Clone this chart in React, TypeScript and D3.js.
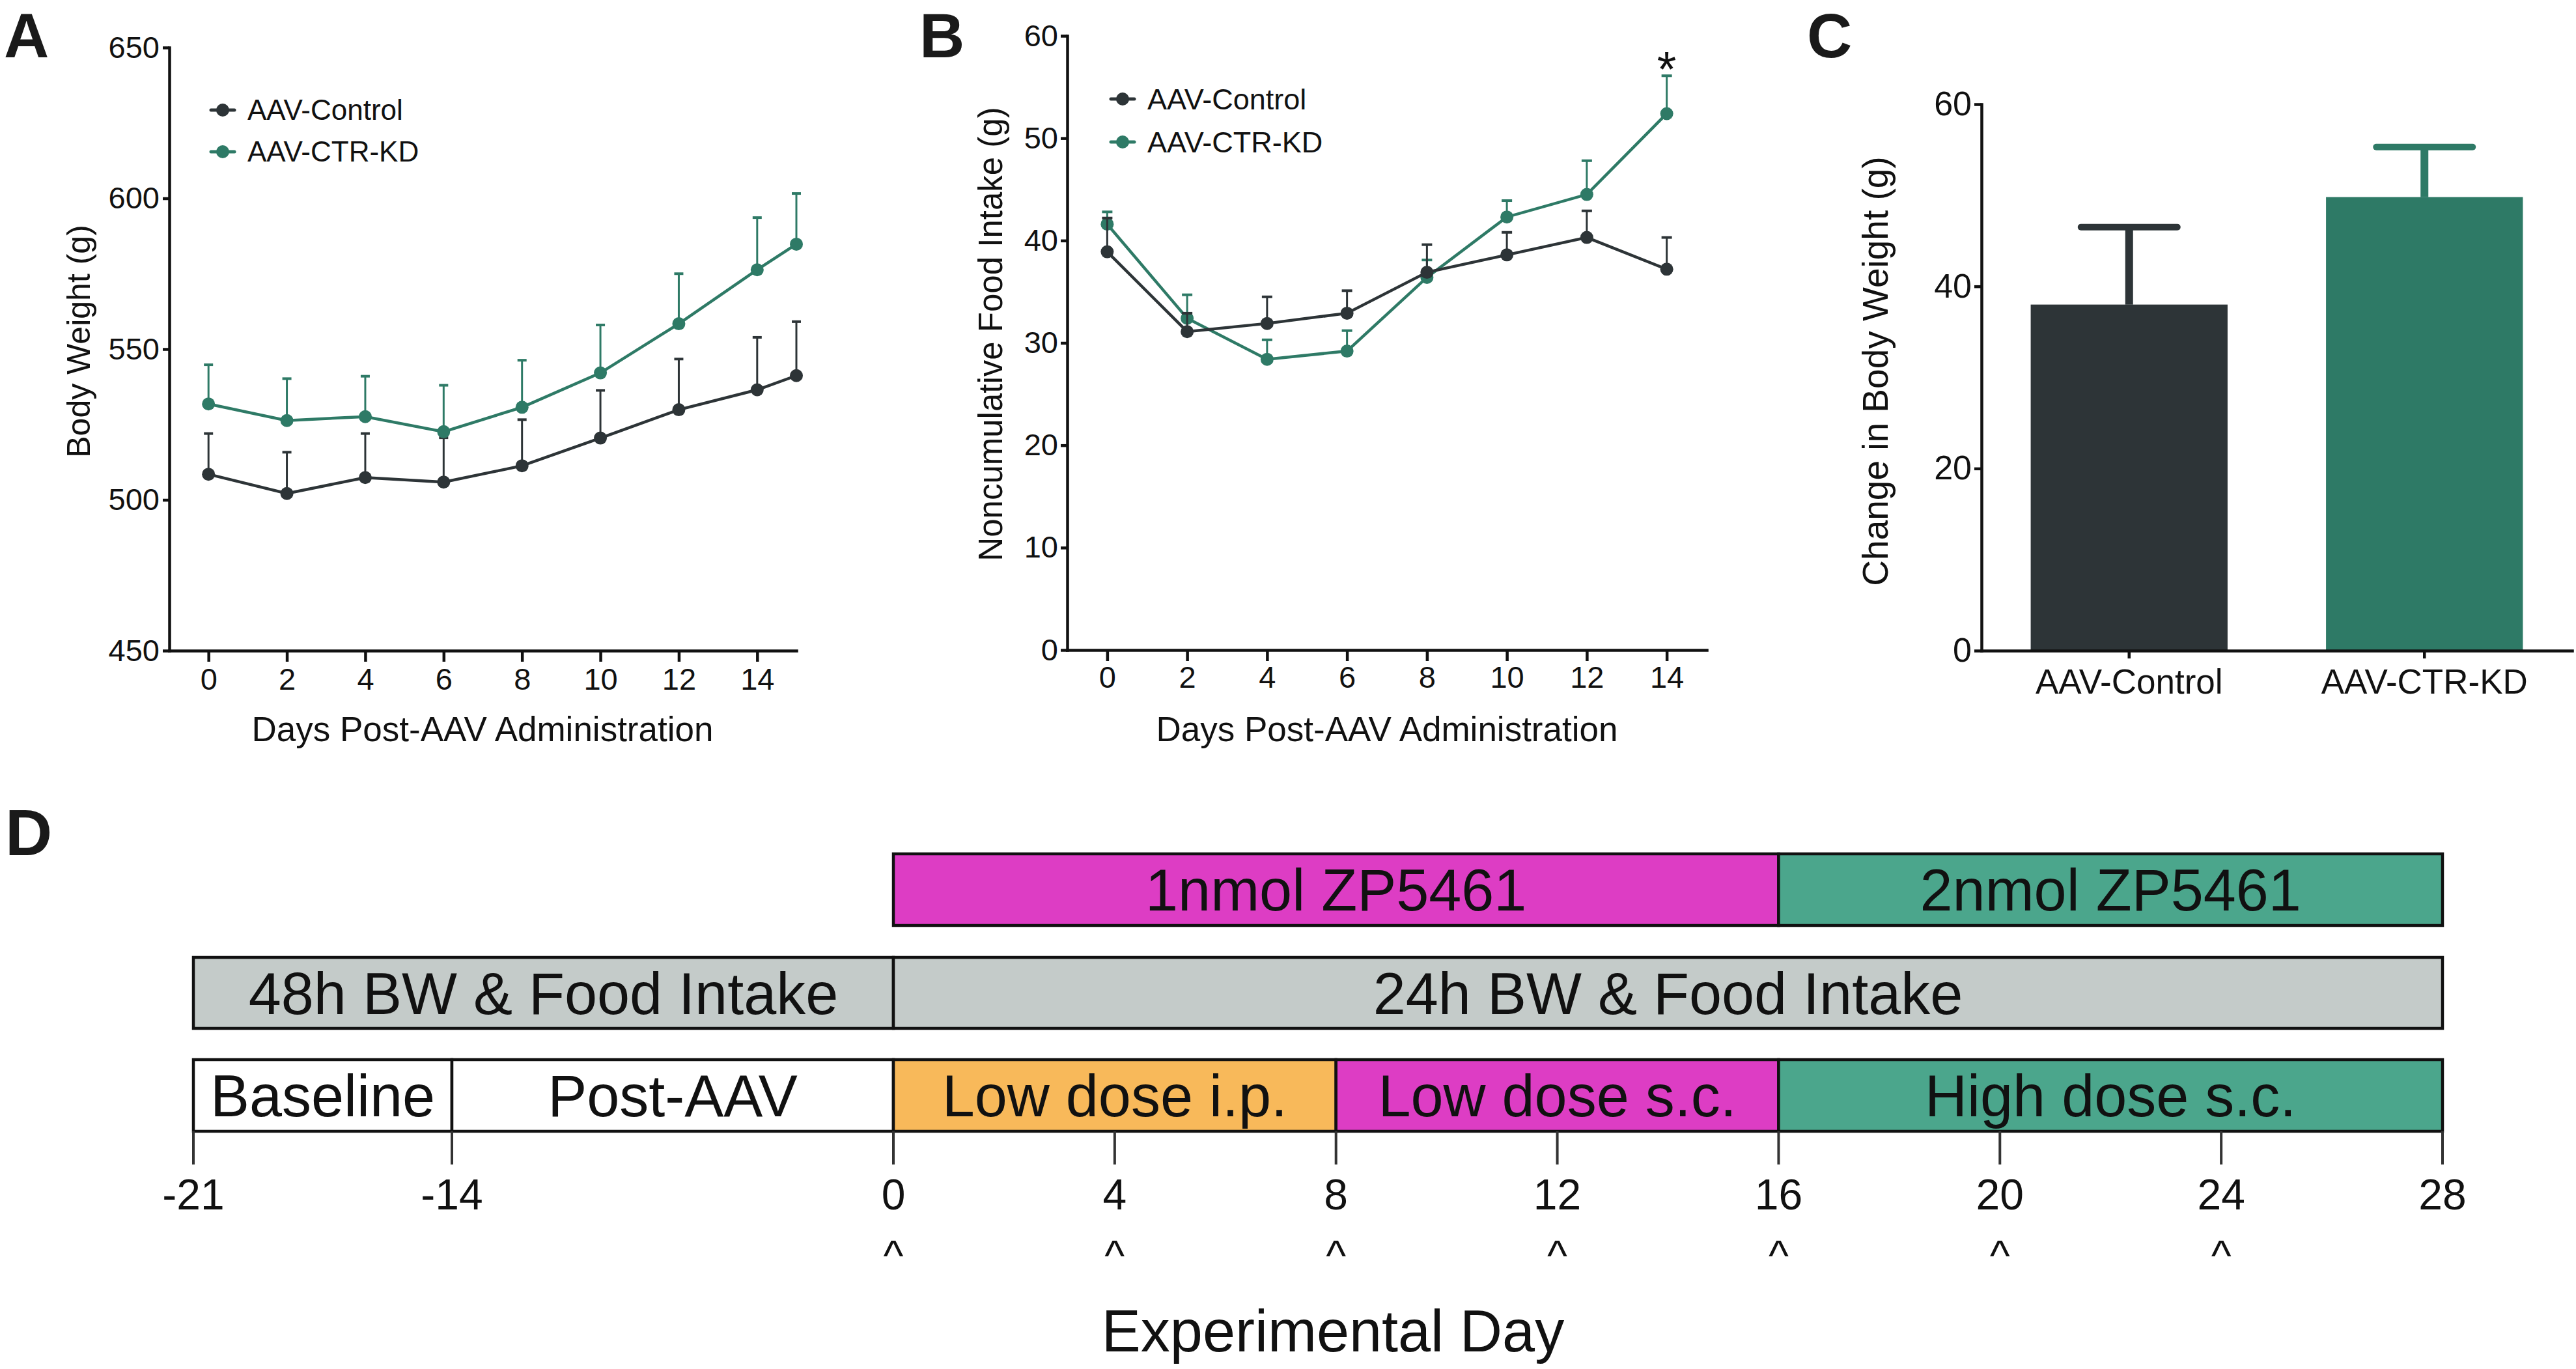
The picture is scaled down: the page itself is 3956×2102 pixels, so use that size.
import { useEffect, useRef } from 'react';
import * as d3 from 'd3';

const FONT = '"Liberation Sans", Arial, Helvetica, sans-serif';
const INK = '#111';
const DARK = '#2d3437';
const GREEN = '#2e7a66';

// panel A - body weight
const bwDays = [0, 2, 4, 6, 8, 10, 12, 14, 15];
const bwControl = [508.5, 502.1, 507.4, 505.9, 511.3, 520.5, 529.9, 536.5, 541.2];
const bwControlSem = [13.5, 13.7, 14.6, 14.7, 15.3, 15.8, 16.8, 17.4, 17.9];
const bwKD = [531.8, 526.3, 527.6, 522.6, 530.7, 542.1, 558.4, 576.3, 584.8];
const bwKDSem = [13.0, 13.9, 13.4, 15.4, 15.6, 15.9, 16.6, 17.3, 16.8];
const bwYTicks = [450, 500, 550, 600, 650];

// panel B - food intake
const fiDays = [0, 2, 4, 6, 8, 10, 12, 14];
const fiControl = [38.9, 31.1, 31.9, 32.9, 36.9, 38.6, 40.3, 37.2];
const fiControlSem = [3.3, 1.8, 2.6, 2.2, 2.7, 2.2, 2.6, 3.1];
const fiKD = [41.6, 32.4, 28.4, 29.2, 36.4, 42.3, 44.5, 52.4];
const fiKDSem = [1.2, 2.3, 1.9, 2.0, 1.7, 1.6, 3.3, 3.7];
const fiYTicks = [0, 10, 20, 30, 40, 50, 60];
const dayTicks = [0, 2, 4, 6, 8, 10, 12, 14];
const sigDays = [14];

// panel C - change in body weight
const groups = ['AAV-Control', 'AAV-CTR-KD'];
const changeMean = [38.0, 49.8];
const changeSem = [8.5, 5.5];
const changeTicks = [0, 20, 40, 60];

// panel D - timeline
const doseSegments = [
  { start: 0, end: 16, label: '1nmol ZP5461' },
  { start: 16, end: 28, label: '2nmol ZP5461' },
];
const measureSegments = [
  { start: -21, end: 0, label: '48h BW & Food Intake' },
  { start: 0, end: 28, label: '24h BW & Food Intake' },
];
const phaseSegments = [
  { start: -21, end: -14, label: 'Baseline' },
  { start: -14, end: 0, label: 'Post-AAV' },
  { start: 0, end: 8, label: 'Low dose i.p.' },
  { start: 8, end: 16, label: 'Low dose s.c.' },
  { start: 16, end: 28, label: 'High dose s.c.' },
];
const timelineTicks = [-21, -14, 0, 4, 8, 12, 16, 20, 24, 28];
const injectionDays = [0, 4, 8, 12, 16, 20, 24];

const MAGENTA = '#dd3dc4';
const TEAL = '#4ba68c';
const GREY = '#c4cbc9';
const ORANGE = '#f8b95a';
const segmentFill = {
  '1nmol ZP5461': MAGENTA,
  '2nmol ZP5461': TEAL,
  '48h BW & Food Intake': GREY,
  '24h BW & Food Intake': GREY,
  'Baseline': '#fff',
  'Post-AAV': '#fff',
  'Low dose i.p.': ORANGE,
  'Low dose s.c.': MAGENTA,
  'High dose s.c.': TEAL,
};

const Axis = ({ axis, transform, fontSize }) => {
  const ref = useRef(null);
  useEffect(() => {
    const g = d3.select(ref.current);
    g.call(axis);
    g.attr('font-family', FONT).attr('font-size', fontSize);
    g.select('.domain').attr('stroke', INK).attr('stroke-width', 4.5).attr('stroke-linecap', 'square');
    g.selectAll('.tick line').attr('stroke', INK).attr('stroke-width', 4.5);
    g.selectAll('.tick text').attr('fill', INK);
  }, [axis]);
  return <g ref={ref} transform={transform} />;
};

const Series = ({ x, y, days, values, sem, color, cap }) => {
  const line = d3.line().x((d, i) => x(days[i])).y(d => y(d));
  return (
    <g>
      {values.map((v, i) => (
        <g key={i} stroke={color} strokeWidth={3}>
          <line x1={x(days[i])} x2={x(days[i])} y1={y(v)} y2={y(v + sem[i])} />
          <line x1={x(days[i]) - cap} x2={x(days[i]) + cap} y1={y(v + sem[i])} y2={y(v + sem[i])} strokeWidth={4} />
        </g>
      ))}
      <path d={line(values)} fill="none" stroke={color} strokeWidth={4.5} />
      {values.map((v, i) => (
        <circle key={i} cx={x(days[i])} cy={y(v)} r={10} fill={color} />
      ))}
    </g>
  );
};

const Legend = ({ x, ys, size }) => (
  <g fontFamily={FONT} fontSize={size} fill={INK}>
    {groups.map((g, i) => (
      <g key={g}>
        <line x1={x - 18} x2={x + 18} y1={ys[i]} y2={ys[i]} stroke={i ? GREEN : DARK} strokeWidth={5} strokeLinecap="round" />
        <circle cx={x} cy={ys[i]} r={10} fill={i ? GREEN : DARK} />
        <text x={x + 38} y={ys[i]} dy="0.35em">{g}</text>
      </g>
    ))}
  </g>
);

const PanelA = () => {
  const x = d3.scaleLinear().domain([-1, 15]).range([260, 1223]);
  const y = d3.scaleLinear().domain([450, 650]).range([999, 73]);
  return (
    <g>
      <text x={6} y={88} fontFamily={FONT} fontWeight="bold" fontSize={96} fill="#1a1a1a">A</text>
      <Series x={x} y={y} days={bwDays} values={bwControl} sem={bwControlSem} color={DARK} cap={7} />
      <Series x={x} y={y} days={bwDays} values={bwKD} sem={bwKDSem} color={GREEN} cap={7} />
      <Axis axis={d3.axisBottom(x).tickValues(dayTicks).tickSize(17).tickSizeOuter(0).tickPadding(10)} transform="translate(0,999)" fontSize={47} />
      <Axis axis={d3.axisLeft(y).tickValues(bwYTicks).tickSize(10).tickSizeOuter(0).tickPadding(5)} transform="translate(260,0)" fontSize={47} />
      <Legend x={342} ys={[169, 233]} size={44} />
      <text x={741} y={1138} textAnchor="middle" fontFamily={FONT} fontSize={53} fill={INK}>Days Post-AAV Administration</text>
      <text transform="translate(138,524) rotate(-90)" textAnchor="middle" fontFamily={FONT} fontSize={50} fill={INK}>Body Weight (g)</text>
    </g>
  );
};

const PanelB = () => {
  const x = d3.scaleLinear().domain([-1, 15]).range([1639, 2621]);
  const y = d3.scaleLinear().domain([0, 60]).range([998, 55]);
  return (
    <g>
      <text x={1412} y={88} fontFamily={FONT} fontWeight="bold" fontSize={96} fill="#1a1a1a">B</text>
      <Series x={x} y={y} days={fiDays} values={fiKD} sem={fiKDSem} color={GREEN} cap={8} />
      <Series x={x} y={y} days={fiDays} values={fiControl} sem={fiControlSem} color={DARK} cap={8} />
      {sigDays.map(d => (
        <text key={d} x={x(d)} y={132} textAnchor="middle" fontFamily={FONT} fontSize={76} fill={INK}>*</text>
      ))}
      <Axis axis={d3.axisBottom(x).tickValues(dayTicks).tickSize(17).tickSizeOuter(0).tickPadding(8)} transform="translate(0,998)" fontSize={47} />
      <Axis axis={d3.axisLeft(y).tickValues(fiYTicks).tickSize(10).tickSizeOuter(0).tickPadding(4)} transform="translate(1639,0)" fontSize={47} />
      <Legend x={1724} ys={[152, 218]} size={45} />
      <text x={2130} y={1138} textAnchor="middle" fontFamily={FONT} fontSize={53} fill={INK}>Days Post-AAV Administration</text>
      <text transform="translate(1539,513) rotate(-90)" textAnchor="middle" fontFamily={FONT} fontSize={51} fill={INK}>Noncumulative Food Intake (g)</text>
    </g>
  );
};

const PanelC = () => {
  const x = d3.scaleBand().domain(groups).range([3043, 3950]).paddingInner(1 / 3).paddingOuter(1 / 6);
  const y = d3.scaleLinear().domain([0, 60]).range([999, 160]);
  const colors = [DARK, GREEN];
  return (
    <g>
      <text x={2775} y={88} fontFamily={FONT} fontWeight="bold" fontSize={96} fill="#1a1a1a">C</text>
      {groups.map((g, i) => {
        const cx = x(g) + x.bandwidth() / 2;
        return (
          <g key={g}>
            <rect x={x(g)} y={y(changeMean[i])} width={x.bandwidth()} height={y(0) - y(changeMean[i])} fill={colors[i]} />
            <line x1={cx} x2={cx} y1={y(changeMean[i])} y2={y(changeMean[i] + changeSem[i])} stroke={colors[i]} strokeWidth={12} />
            <line x1={cx - 74} x2={cx + 74} y1={y(changeMean[i] + changeSem[i])} y2={y(changeMean[i] + changeSem[i])} stroke={colors[i]} strokeWidth={10} strokeLinecap="round" />
          </g>
        );
      })}
      <Axis axis={d3.axisBottom(x).tickSize(12).tickSizeOuter(0).tickPadding(16)} transform="translate(0,999)" fontSize={53} />
      <Axis axis={d3.axisLeft(y).tickValues(changeTicks).tickSize(11).tickSizeOuter(0).tickPadding(4)} transform="translate(3043,0)" fontSize={52} />
      <text transform="translate(2899,570) rotate(-90)" textAnchor="middle" fontFamily={FONT} fontSize={55} fill={INK}>Change in Body Weight (g)</text>
    </g>
  );
};

const PanelD = () => {
  const x = d3.scaleLinear().domain([-21, -14, 0, 28]).range([297, 694, 1372, 3751]);
  const rows = [
    { segs: doseSegments, top: 1311, bottom: 1421 },
    { segs: measureSegments, top: 1470, bottom: 1579 },
    { segs: phaseSegments, top: 1627, bottom: 1737 },
  ];
  return (
    <g fontFamily={FONT} fill={INK}>
      <text x={8} y={1313} fontWeight="bold" fontSize={100} fill="#1a1a1a">D</text>
      {rows.map((row, r) => (
        <g key={r}>
          {row.segs.map(s => (
            <g key={s.label}>
              <rect x={x(s.start)} y={row.top} width={x(s.end) - x(s.start)} height={row.bottom - row.top}
                fill={segmentFill[s.label]} stroke={INK} strokeWidth={4.5} />
              <text x={(x(s.start) + x(s.end)) / 2} y={(row.top + row.bottom) / 2 + 32} textAnchor="middle" fontSize={90}>{s.label}</text>
            </g>
          ))}
        </g>
      ))}
      {timelineTicks.map(t => (
        <g key={t}>
          <line x1={x(t)} x2={x(t)} y1={1737} y2={1788} stroke="#333" strokeWidth={4} />
          <text x={x(t)} y={1857} textAnchor="middle" fontSize={66}>{t}</text>
        </g>
      ))}
      {injectionDays.map(t => (
        <text key={t} x={x(t)} y={1951} textAnchor="middle" fontSize={66}>^</text>
      ))}
      <text x={2047} y={2075} textAnchor="middle" fontSize={90}>Experimental Day</text>
    </g>
  );
};

export default function App() {
  return (
    <svg width={3956} height={2102} viewBox="0 0 3956 2102"
      style={{ position: 'absolute', left: 0, top: 0, background: '#fff', display: 'block' }}>
      <rect width={3956} height={2102} fill="#fff" />
      <PanelA />
      <PanelB />
      <PanelC />
      <PanelD />
    </svg>
  );
}
